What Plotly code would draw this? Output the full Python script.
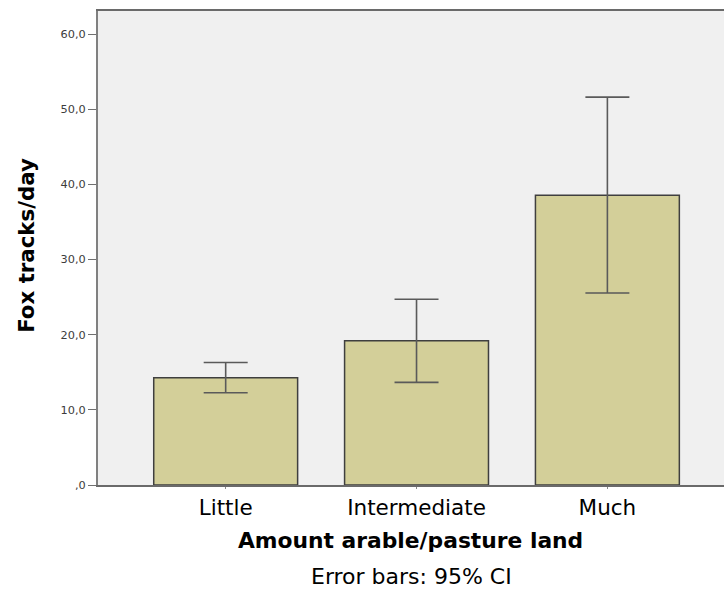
import plotly.graph_objects as go

categories = ["Little", "Intermediate", "Much"]
means = [14.26, 19.18, 38.54]
ci_upper = [16.30, 24.72, 51.60]
ci_lower = [12.27, 13.65, 25.55]
y_tickvals = [0, 10, 20, 30, 40, 50, 60]
y_ticktext = [",0", "10,0", "20,0", "30,0", "40,0", "50,0", "60,0"]

err_plus = [u - m for u, m in zip(ci_upper, means)]
err_minus = [m - l for m, l in zip(means, ci_lower)]

FONT = "DejaVu Sans"
PL, PT, PB, PW = 97.5, 10.5, 485.0, 626.5  # plot area in px
PH = PB - PT

fig = go.Figure()
fig.add_trace(go.Bar(
    x=categories, y=means, width=0.754,
    marker=dict(color="#D3CF99", line=dict(color="#3f3f3f", width=1.5)),
    error_y=dict(type="data", symmetric=False, array=err_plus, arrayminus=err_minus,
                 color="#5a5a5a", thickness=1.6, width=22),
    showlegend=False,
))

fig.update_layout(
    width=724, height=594,
    margin=dict(l=97.5, r=0, t=10.5, b=109),
    paper_bgcolor="white", plot_bgcolor="#F0F0F0",
    font=dict(family=FONT, color="black"),
    xaxis=dict(
        type="category", range=[-0.669, 2.611],
        showline=True, linecolor="#6a6a6a", linewidth=1.5, mirror=True,
        ticks="outside", ticklen=2, tickcolor="#888",
        tickfont=dict(family=FONT, size=21.5, color="black"),
        showgrid=False, zeroline=False,
    ),
    yaxis=dict(
        range=[0, 63.06], tickvals=y_tickvals, ticktext=y_ticktext,
        showline=True, linecolor="#808080", linewidth=2,
        ticks="outside", ticklen=8, tickcolor="#707070", tickwidth=1.3,
        tickfont=dict(family=FONT, size=11.3, color="#3c3c3c"),
        showgrid=False, zeroline=False,
    ),
    annotations=[
        dict(text="<b>Amount arable/pasture land</b>", xref="paper", yref="paper",
             x=(410.5 - PL) / PW, y=(PB - 541) / PH, xanchor="center", yanchor="middle",
             showarrow=False, font=dict(family=FONT, size=21.8, color="black")),
        dict(text="Error bars: 95% CI", xref="paper", yref="paper",
             x=(411 - PL) / PW, y=(PB - 577) / PH, xanchor="center", yanchor="middle",
             showarrow=False, font=dict(family=FONT, size=22, color="black")),
        dict(text="<b>Fox tracks/day</b>", xref="paper", yref="paper",
             x=(26 - PL) / PW, y=(PB - 245) / PH, xanchor="center", yanchor="middle",
             textangle=-90, showarrow=False, font=dict(family=FONT, size=21.3, color="black")),
    ],
)

fig.write_html("out.html", config={"displayModeBar": False},
               post_script="document.body.style.margin='0';document.body.style.overflow='hidden';")
